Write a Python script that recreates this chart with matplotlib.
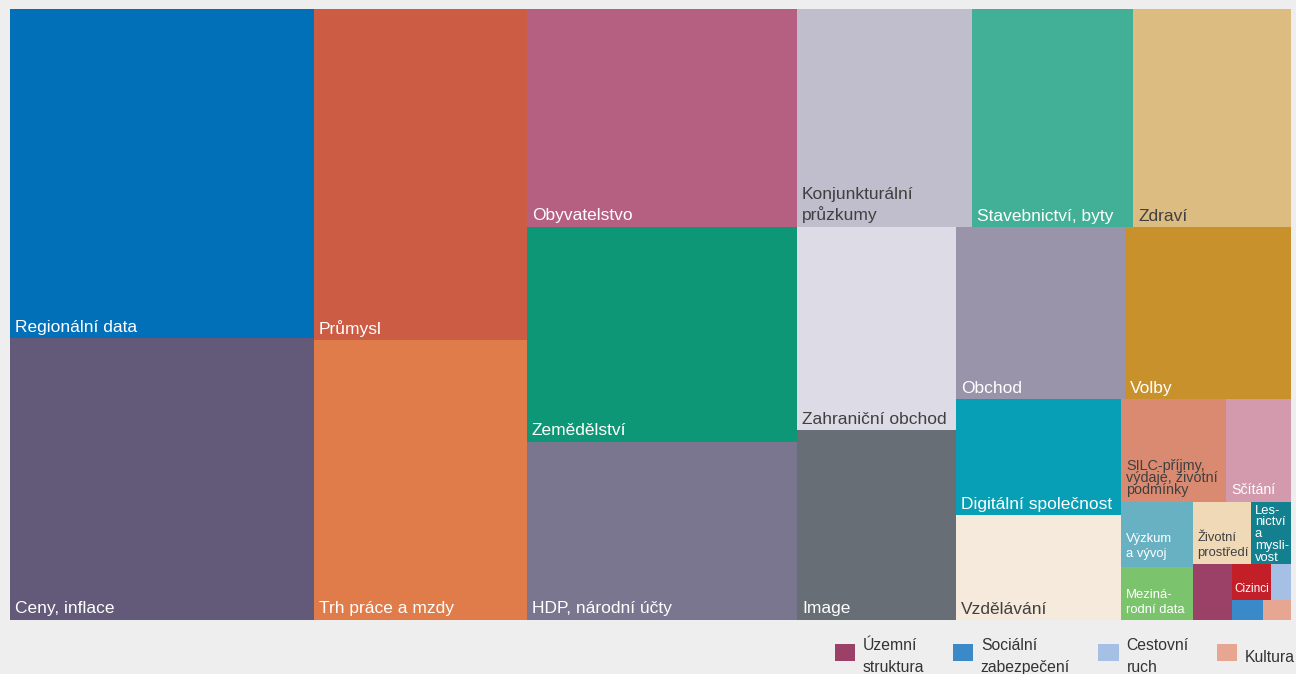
import matplotlib.pyplot as plt
from matplotlib.patches import Rectangle, Patch
from matplotlib.legend_handler import HandlerPatch

plt.rcParams['font.family'] = ['Liberation Sans', 'DejaVu Sans']

# Topics, largest first (order used by the treemap layout)
topics = [
    "Regionální data", "Ceny, inflace", "Průmysl", "Trh práce a mzdy",
    "Obyvatelstvo", "Zemědělství", "HDP, národní účty",
    "Konjunkturální průzkumy", "Stavebnictví, byty", "Zdraví",
    "Zahraniční obchod", "Image", "Obchod", "Volby",
    "Digitální společnost", "Vzdělávání",
    "SILC-příjmy, výdaje, životní podmínky", "Sčítání",
    "Výzkum a vývoj", "Mezinárodní data", "Životní prostředí",
    "Lesnictví a myslivost", "Územní struktura", "Cizinci",
    "Cestovní ruch", "Sociální zabezpečení", "Kultura",
]
values = [100.0, 85.7, 70.5, 59.6, 58.9, 58.1, 48.1, 38.2, 35.1, 34.4,
          32.3, 30.2, 29.1, 28.6, 19.1, 17.3, 10.8, 6.7, 4.65, 3.79,
          3.6, 2.48, 2.18, 1.40, 0.72, 0.62, 0.56]
# Text shown inside the cells ('' = no label, see legend)
labels = [
    "Regionální data", "Ceny, inflace", "Průmysl", "Trh práce a mzdy",
    "Obyvatelstvo", "Zemědělství", "HDP, národní účty",
    "Konjunkturální\nprůzkumy", "Stavebnictví, byty", "Zdraví",
    "Zahraniční obchod", "Image", "Obchod", "Volby",
    "Digitální společnost", "Vzdělávání",
    "SILC-příjmy,\nvýdaje, životní\npodmínky", "Sčítání",
    "Výzkum\na vývoj", "Meziná-\nrodní data", "Životní\nprostředí",
    "Les-\nnictví\na\nmysli-\nvost", "", "Cizinci", "", "", "",
]
legend_topics = ["Územní\nstruktura", "Sociální\nzabezpečení", "Cestovní\nruch", "Kultura"]

colors = [
    "#0170b9", "#625a78", "#cd5c44", "#e07b4a", "#b55f81", "#0e9776",
    "#7b768f", "#c0bdcc", "#41b097", "#dcbc81", "#dcdbe6", "#686e75",
    "#9a94aa", "#c8912c", "#079fb5", "#f5eadb", "#d98a71", "#d29aac",
    "#68b1c3", "#7cc36e", "#f0d9b6", "#13808f", "#9b4168", "#c31f29",
    "#a6bfe4", "#3a89c9", "#e6a691",
]
legend_colors = ["#9b4168", "#3a89c9", "#a6bfe4", "#e6a691"]

DARK = "#404040"
dark_labels = {"Konjunkturální průzkumy", "Zdraví", "Zahraniční obchod",
               "Vzdělávání", "SILC-příjmy, výdaje, životní podmínky",
               "Životní prostředí"}
# per-label text style: font px, line height px, baseline offset, left pad
small_style = {
    "Konjunkturální průzkumy": (17.4, 20.7, 7.5, 5),
    "SILC-příjmy, výdaje, životní podmínky": (14.4, 11.7, 8.5, 5),
    "Sčítání": (14.1, 14, 8, 5),
    "Výzkum a vývoj": (13, 15, 10, 5),
    "Mezinárodní data": (13, 14.3, 7.3, 5),
    "Životní prostředí": (13, 15, 8, 4.5),
    "Lesnictví a myslivost": (13, 11.7, 3.7, 4),
    "Cizinci": (11.7, 12, 7.7, 2.3),
}
default_style = (17.4, 20.7, 6.5, 5)


def worst(row, side):
    s = sum(row)
    return max(max(side * side * r / (s * s), s * s / (side * side * r)) for r in row)


def squarify(vals, x, y, w, h):
    rects = []
    i = 0
    while i < len(vals):
        column = w > h * 1.1
        side = h if column else w
        row = [vals[i]]
        j = i + 1
        while j < len(vals) and worst(row + [vals[j]], side) <= worst(row, side):
            row.append(vals[j])
            j += 1
        thick = sum(row) / side
        pos = y if column else x
        for r in row:
            length = r / thick
            if column:
                rects.append((x, pos, thick, length))
            else:
                rects.append((pos, y, length, thick))
            pos += length
        if column:
            x += thick
            w -= thick
        else:
            y += thick
            h -= thick
        i = j
    return rects


fig = plt.figure(figsize=(12.96, 6.74), dpi=100)
fig.patch.set_facecolor("#eeeeee")

# axes in pixel units so the layout keeps the real aspect ratio
W, H = 1281, 611
ax = fig.add_axes([10 / 1296, 54 / 674, W / 1296, H / 674])
ax.set_xlim(0, W)
ax.set_ylim(H, 0)
ax.axis("off")

scale = W * H / sum(values)
rects = squarify([v * scale for v in values], 0, 0, W, H)

px = 0.72  # px -> pt at 100 dpi
for topic, lab, col, (x, y, w, h) in zip(topics, labels, colors, rects):
    ax.add_patch(Rectangle((x, y), w, h, facecolor=col, edgecolor="none"))
    if not lab:
        continue
    fs, lh, off, pad = small_style.get(topic, default_style)
    tc = DARK if topic in dark_labels else "white"
    lines = lab.split("\n")
    n = len(lines)
    for k, line in enumerate(lines):
        yb = y + h - off - (n - 1 - k) * lh
        ax.text(x + pad, yb, line, fontsize=fs * px, color=tc,
                ha="left", va="baseline")


# legend squares sit a little higher than the text baseline
def raised_square(legend, orig_handle, xdescent, ydescent, width, height, fontsize):
    return Rectangle((-xdescent, -ydescent + 3.0), width, height)


handles = [Patch(facecolor=c, edgecolor="none") for c in legend_colors]
leg = fig.legend(handles, legend_topics, ncol=4, loc="upper left",
                 bbox_to_anchor=(835 / 1296, 1 - 638 / 674),
                 frameon=False, fontsize=15.8 * px, borderpad=0, borderaxespad=0,
                 handlelength=1.27, handleheight=1.27, handletextpad=0.5,
                 columnspacing=1.8, labelcolor="#333333",
                 handler_map={Patch: HandlerPatch(patch_func=raised_square)})
for t in leg.get_texts():
    t.set_linespacing(1.55)

fig.savefig("out.png", dpi=100, facecolor=fig.get_facecolor())
